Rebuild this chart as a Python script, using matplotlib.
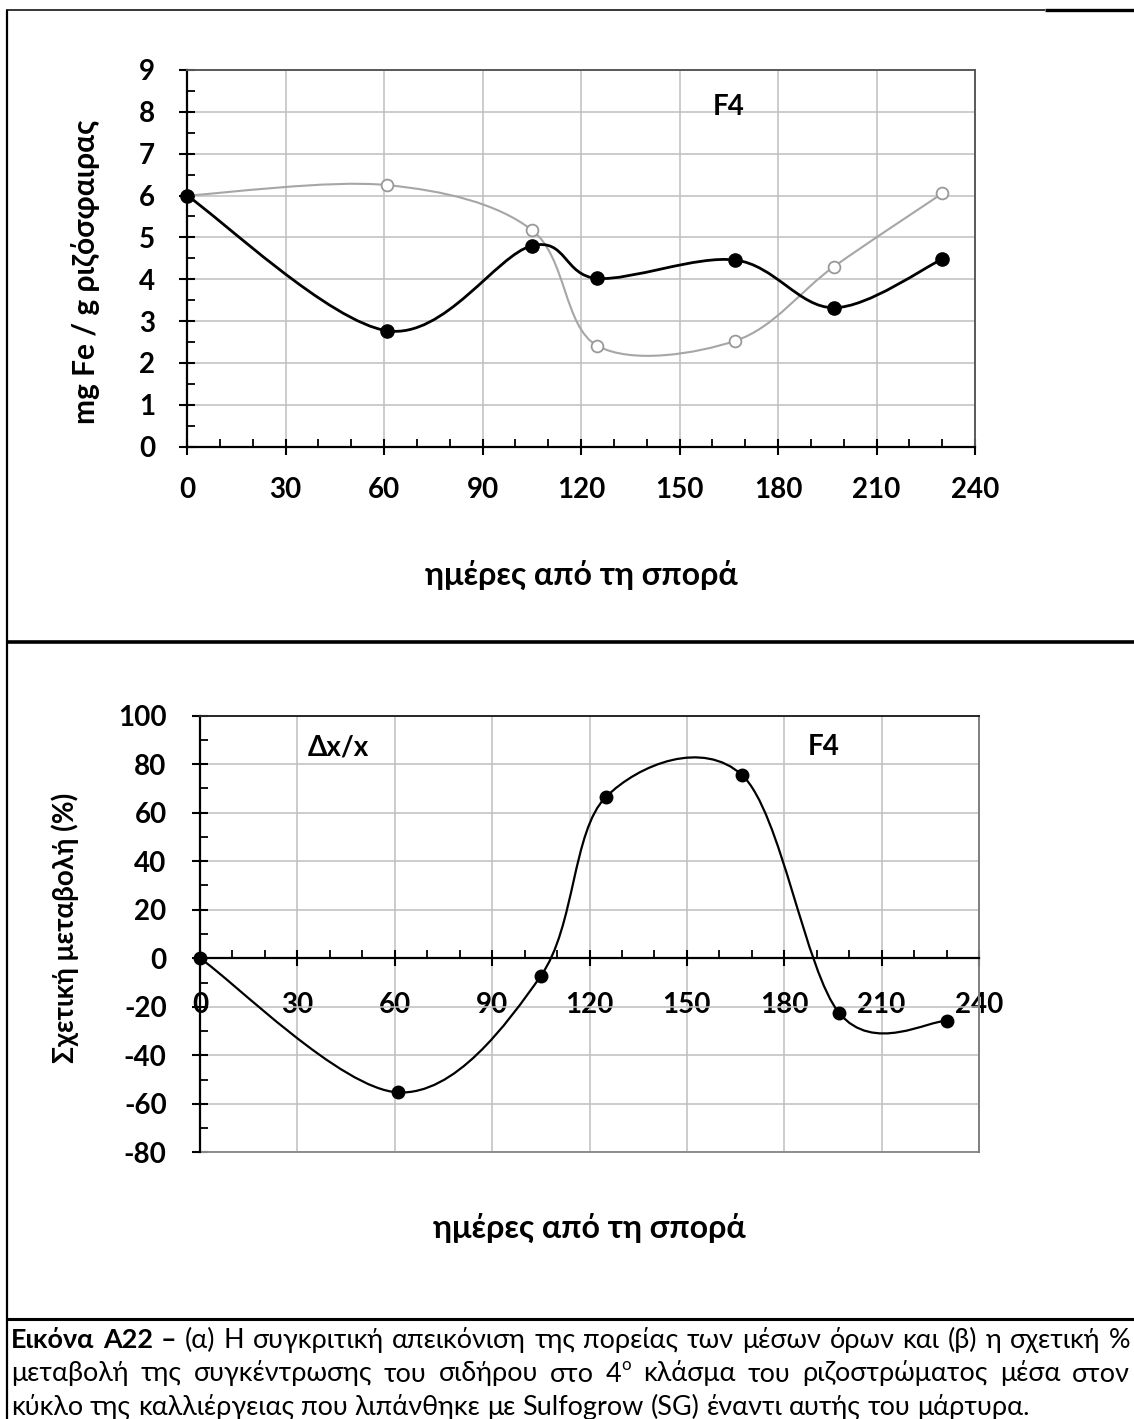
import numpy as np
import matplotlib
matplotlib.use('Agg')
import matplotlib.pyplot as plt
from matplotlib.path import Path
from matplotlib.patches import PathPatch
from matplotlib.lines import Line2D

# ---------------- data ----------------
days = [0, 61, 105, 125, 167, 197, 230]
fe_sg = [6.0, 2.77, 4.80, 4.02, 4.46, 3.32, 4.48]          # black, filled markers
fe_control = [6.0, 6.25, 5.18, 2.41, 2.53, 4.30, 6.05]     # grey, open markers
rel_change = [0.0, -55.3, -7.3, 66.4, 75.5, -22.7, -25.9]  # relative change (%)

x_ticks = [0, 30, 60, 90, 120, 150, 180, 210, 240]
top_y_ticks = [0, 1, 2, 3, 4, 5, 6, 7, 8, 9]
bot_y_ticks = [-80, -60, -40, -20, 0, 20, 40, 60, 80, 100]

top_ylabel = "mg Fe / g ριζόσφαιρας"
bot_ylabel = "Σχετική μεταβολή (%)"
xlabel = "ημέρες από τη σπορά"

cap_bold = "Εικόνα Α22 –"
cap_line1 = "(α) Η συγκριτική απεικόνιση της πορείας των μέσων όρων και (β) η σχετική %"
cap_line2 = "μεταβολή της συγκέντρωσης του σιδήρου στο 4^ο κλάσμα του ριζοστρώματος μέσα στον"
cap_line3 = "κύκλο της καλλιέργειας που λιπάνθηκε με Sulfogrow (SG) έναντι αυτής του μάρτυρα."

# ---------------- style ----------------
plt.rcParams['font.family'] = ['Lato', 'DejaVu Sans']
plt.rcParams['font.weight'] = 'bold'

W, H = 1134, 1419
fig = plt.figure(figsize=(W / 100, H / 100), dpi=100)
fig.patch.set_facecolor('white')

GRID = '#bfbfbf'
GREY_LINE = '#a6a6a6'
TICK_FS = 20


def fx(x):
    return x / W


def fy(y):
    return 1 - y / H


def smooth_path(xs, ys, t=1 / 6):
    pts = np.column_stack([xs, ys]).astype(float)
    n = len(pts)
    verts = [pts[0]]
    codes = [Path.MOVETO]
    for i in range(n - 1):
        p0 = pts[i - 1] if i > 0 else pts[i]
        p1 = pts[i]
        p2 = pts[i + 1]
        p3 = pts[i + 2] if i + 2 < n else pts[i + 1]
        c1 = p1 + (p2 - p0) * t
        c2 = p2 - (p3 - p1) * t
        verts += [c1, c2, p2]
        codes += [Path.CURVE4] * 3
    return Path(verts, codes)


def style_axes(ax, yticks, yminor, xpad, ypad):
    ax.set_xlim(0, 240)
    ax.set_ylim(yticks[0], yticks[-1])
    ax.set_xticks(x_ticks)
    ax.set_xticks(np.arange(0, 241, 10), minor=True)
    ax.set_yticks(yticks)
    ax.set_yticks(yminor, minor=True)
    ax.grid(which='major', color=GRID, lw=1.1)
    ax.set_axisbelow(True)
    ax.tick_params(which='major', direction='inout', length=12, width=1.5, color='black',
                   labelsize=TICK_FS)
    ax.tick_params(axis='x', which='major', pad=xpad)
    ax.tick_params(axis='y', which='major', pad=ypad)
    ax.tick_params(which='minor', direction='in', length=5.5, width=1.3, color='black')
    ax.set_xticklabels([str(v) for v in x_ticks], fontsize=TICK_FS, fontweight='bold')
    ax.set_yticklabels([str(v) for v in yticks], fontsize=TICK_FS, fontweight='bold')
    for s in ['left', 'bottom']:
        ax.spines[s].set_color('black')
        ax.spines[s].set_linewidth(1.6)


# ---------------- top panel ----------------
ax1 = fig.add_axes([187 / W, 1 - 446.7 / H, 788 / W, 376.7 / H])
style_axes(ax1, top_y_ticks, np.arange(0, 9.01, 0.5), xpad=16, ypad=17)
for s in ['top', 'right']:
    ax1.spines[s].set_color('#595959')
    ax1.spines[s].set_linewidth(1.4)

ax1.add_patch(PathPatch(smooth_path(days, fe_control), fill=False,
                        edgecolor=GREY_LINE, lw=1.5, zorder=3))
ax1.add_patch(PathPatch(smooth_path(days, fe_sg), fill=False,
                        edgecolor='black', lw=2.0, zorder=4))
ax1.plot(days, fe_control, linestyle='none', marker='o', markersize=8.5,
         markerfacecolor='white', markeredgecolor='#999999', markeredgewidth=1.3, zorder=5)
ax1.plot(days, fe_sg, linestyle='none', marker='o', markersize=9.5,
         markerfacecolor='black', markeredgecolor='black', zorder=6, clip_on=False)
ax1.text(165, 8.12, "F4", fontsize=20, fontweight='bold', ha='center', va='center')

fig.text(fx(85), fy(272), top_ylabel, rotation=90, fontsize=21.5, fontweight='bold',
         ha='center', va='center')
fig.text(fx(581), fy(575), xlabel, fontsize=23, fontweight='bold', ha='center', va='center')

# ---------------- bottom panel ----------------
ax2 = fig.add_axes([200 / W, 1 - 1152.3 / H, 779 / W, 436.6 / H])
ax2.spines['bottom'].set_position(('data', 0))
style_axes(ax2, bot_y_ticks, np.arange(-80, 100.1, 10), xpad=18, ypad=18)
ax2.spines['top'].set_color('#262626')
ax2.spines['top'].set_linewidth(1.4)
ax2.spines['right'].set_color('#7f7f7f')
ax2.spines['right'].set_linewidth(1.4)
ax2.axhline(-80, color='#8c8c8c', lw=1.4, zorder=2, clip_on=False)

ax2.add_patch(PathPatch(smooth_path(days, rel_change), fill=False,
                        edgecolor='black', lw=1.6, zorder=4))
ax2.plot(days, rel_change, linestyle='none', marker='o', markersize=9,
         markerfacecolor='black', markeredgecolor='black', zorder=6, clip_on=False)
ax2.text(42.5, 87, "Δx/x", fontsize=20, fontweight='bold', ha='center', va='center')
ax2.text(192, 87, "F4", fontsize=20, fontweight='bold', ha='center', va='center')

fig.text(fx(65), fy(928), bot_ylabel, rotation=90, fontsize=20, fontweight='bold',
         ha='center', va='center')
fig.text(fx(589), fy(1228), xlabel, fontsize=23, fontweight='bold', ha='center', va='center')

for ax in (ax1, ax2):
    for lab in ax.get_xticklabels() + ax.get_yticklabels():
        lab.set_fontweight('bold')
        lab.set_fontsize(TICK_FS)

# ---------------- table frame ----------------
def hline(y, x0, x1, lw):
    fig.add_artist(Line2D([fx(x0), fx(x1)], [fy(y), fy(y)], color='black', lw=lw,
                          solid_capstyle='butt'))


def vline(x, y0, y1, lw):
    fig.add_artist(Line2D([fx(x), fx(x)], [fy(y0), fy(y1)], color='black', lw=lw,
                          solid_capstyle='butt'))


vline(7, 9.5, H, 1.6)
hline(9.5, 6, 1045, 1.1)
hline(10, 1045, W, 2.4)
hline(641.5, 6, W, 2.6)
hline(1319, 6, W, 2.2)

# ---------------- caption (justified) ----------------
renderer = fig.canvas.get_renderer()
CAP_FONT = ['Lato', 'DejaVu Sans']


def make_tokens(text, weight):
    return [(w, weight) for w in text.split(' ')]


def text_width(s, size, weight='normal'):
    t = fig.text(0, 0, s, fontsize=size, fontweight=weight, family=CAP_FONT)
    w = t.get_window_extent(renderer).width
    t.remove()
    return w


base = 16.0
nat = text_width(cap_line3, base)
cap_size = base * (1023 / nat)
space_w = text_width("x x", cap_size) - text_width("xx", cap_size)


def draw_line(tokens, y_base, x0, x1, justify):
    items = []
    for word, weight in tokens:
        if '^' in word:
            b, s = word.split('^')
            parts = [(b, cap_size, 0.0), (s, cap_size * 0.62, cap_size * 0.42)]
        else:
            parts = [(word, cap_size, 0.0)]
        arts = []
        for s, fs, dy in parts:
            t = fig.text(0, fy(y_base), s, fontsize=fs, fontweight=weight, family=CAP_FONT,
                         ha='left', va='baseline')
            arts.append((t, dy, t.get_window_extent(renderer).width))
        items.append(arts)
    widths = [sum(a[2] for a in arts) for arts in items]
    if justify and len(items) > 1:
        gap = (x1 - x0 - sum(widths)) / (len(items) - 1)
        gap = max(gap, space_w * 0.6)
    else:
        gap = space_w
    x = x0
    for arts in items:
        for t, dy, w in arts:
            t.set_position((fx(x), fy(y_base - dy * 100 / 72)))
            x += w
        x += gap


line1_tokens = make_tokens(cap_bold, 'bold') + make_tokens(cap_line1, 'normal')
draw_line(line1_tokens, 1348, 11, 1130, True)
draw_line(make_tokens(cap_line2, 'normal'), 1381.5, 11, 1130, True)
draw_line(make_tokens(cap_line3, 'normal'), 1415, 11, 1130, False)

fig.savefig('out.png', dpi=100, facecolor='white')
